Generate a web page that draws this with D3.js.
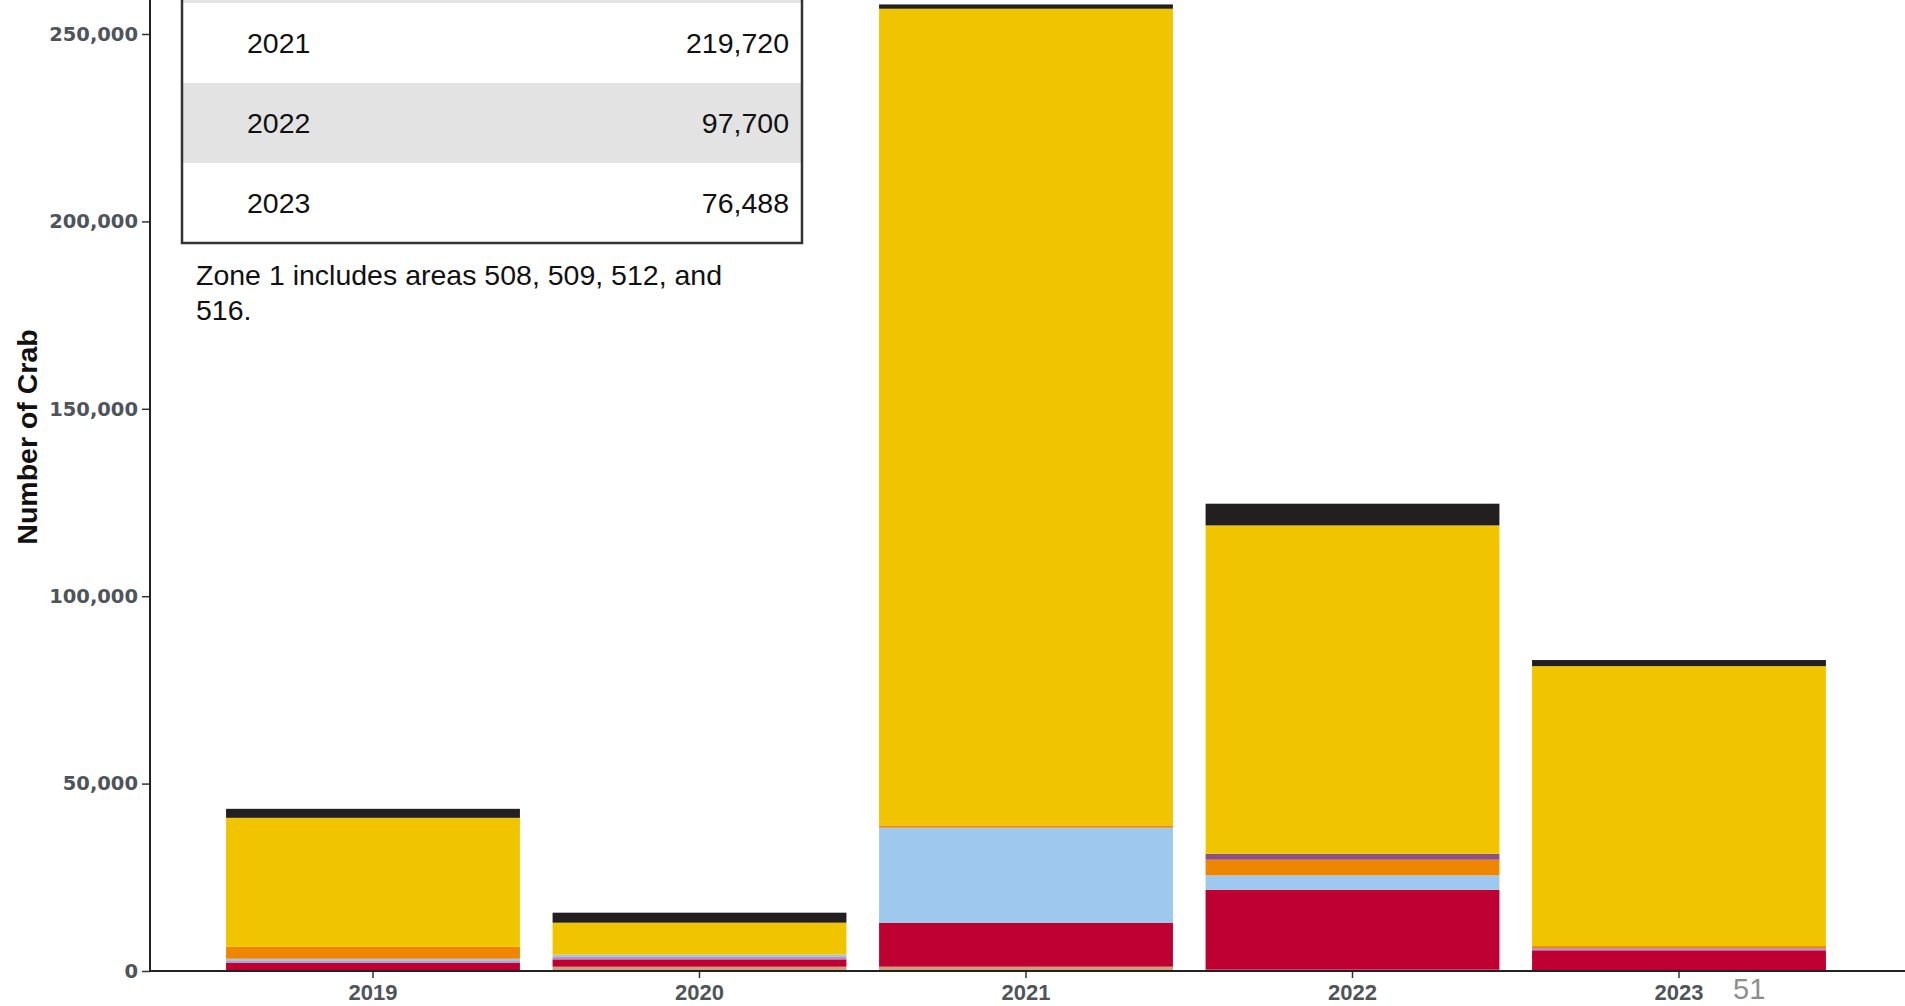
<!DOCTYPE html>
<html>
<head>
<meta charset="utf-8">
<script src="https://cdn.jsdelivr.net/npm/d3@7"></script>
<style>
  html, body { margin: 0; padding: 0; background: #fff; overflow: hidden; }
  svg { display: block; }
</style>
</head>
<body>
<svg id="chart" width="1905" height="1006"></svg>
<script>
// ---------------- DATA ----------------
const years = ["2019", "2020", "2021", "2022", "2023"];
const seriesNames = ["tan", "red", "lavender", "lightblue", "orange", "purple", "yellow", "black"];
const seriesColors = ["#c9a27c", "#bd0031", "#b393c2", "#9fc8ee", "#ef8600", "#8c4f86", "#f1c400", "#231f20"];
const tan       = [0,     1150,  1150,   350,   0];
const red       = [2200,  1960,  11740,  21340, 5520];
const lavender  = [450,   620,   0,      0,     600];
const lightblue = [620,   620,   25350,  3820,  0];
const orange    = [3200,  0,     600,    4180,  530];
const purple    = [0,     0,     0,      1600,  0];
const yellow    = [34400, 8540,  217900, 87600, 74700];
const black     = [2400,  2670,  1150,   5790,  1620];
const yTicks = [0, 50000, 100000, 150000, 200000, 250000];

const tableYears = ["2021", "2022", "2023"];
const tableValues = [219720, 97700, 76488];
const noteLines = ["Zone 1 includes areas 508, 509, 512, and", "516."];
const yTitle = "Number of Crab";
const pageNumber = "51";

// ---------------- BUILD ----------------
const seriesValues = [tan, red, lavender, lightblue, orange, purple, yellow, black];
const rows = years.map((y, i) => {
  const o = { year: y };
  seriesNames.forEach((s, k) => { o[s] = seriesValues[k][i]; });
  return o;
});
const stacked = d3.stack().keys(seriesNames)(rows);

const svg = d3.select("#chart");
const x0 = 150, baseY = 971;

const x = d3.scaleBand().domain(years).range([x0, 1902]).paddingInner(0.1).paddingOuter(0.233);
const y = d3.scaleLinear().domain([0, 250000]).range([baseY, 34]);

// Bars
const color = d3.scaleOrdinal().domain(seriesNames).range(seriesColors);
svg.append("g").selectAll("g").data(stacked).join("g")
  .attr("fill", d => color(d.key))
  .selectAll("rect").data(d => d).join("rect")
  .attr("x", d => x(d.data.year))
  .attr("width", x.bandwidth())
  .attr("y", d => y(d[1]))
  .attr("height", d => Math.max(0, y(d[0]) - y(d[1])));

// Y axis
const yAxis = svg.append("g").attr("transform", `translate(${x0},0)`)
  .call(d3.axisLeft(y).tickValues(yTicks).tickFormat(d3.format(",")).tickSize(8).tickPadding(4));
yAxis.select(".domain").remove();
yAxis.selectAll(".tick line").attr("stroke", "#333").attr("stroke-width", 1.5);
yAxis.selectAll(".tick text")
  .attr("fill", "#4f545a")
  .attr("font-family", "DejaVu Sans, sans-serif")
  .attr("font-weight", "bold")
  .attr("font-size", 19.5);
svg.append("line").attr("x1", x0).attr("x2", x0).attr("y1", 0).attr("y2", baseY)
  .attr("stroke", "#222").attr("stroke-width", 2);

// X axis
const xAxis = svg.append("g").attr("transform", `translate(0,${baseY})`)
  .call(d3.axisBottom(x).tickSize(7).tickPadding(6));
xAxis.select(".domain").remove();
xAxis.selectAll(".tick line").attr("stroke", "#333").attr("stroke-width", 1.5);
xAxis.selectAll(".tick text")
  .attr("fill", "#4f545a")
  .attr("font-family", "Liberation Sans, Arial, sans-serif")
  .attr("font-weight", "bold")
  .attr("font-size", 22);
svg.append("line").attr("x1", x0).attr("x2", 1905).attr("y1", baseY).attr("y2", baseY)
  .attr("stroke", "#222").attr("stroke-width", 2);

// Y title
svg.append("text")
  .attr("transform", "translate(37,437) rotate(-90)")
  .attr("text-anchor", "middle")
  .attr("font-family", "Liberation Sans, Arial, sans-serif")
  .attr("font-weight", "bold")
  .attr("font-size", 28.5)
  .attr("fill", "#111")
  .text(yTitle);

// Table
const tLeft = 182, tRight = 802, tBottom = 243, rowH = 80;
const nRows = tableYears.length;
const tbl = svg.append("g");
// partial row above (cut off by the top edge)
tbl.append("rect").attr("x", tLeft).attr("y", tBottom - (nRows + 1) * rowH)
  .attr("width", tRight - tLeft).attr("height", rowH).attr("fill", "#e3e3e3");
tableYears.forEach((yr, i) => {
  const top = tBottom - (nRows - i) * rowH;
  tbl.append("rect").attr("x", tLeft).attr("y", top).attr("width", tRight - tLeft).attr("height", rowH)
    .attr("fill", i % 2 === 1 ? "#e3e3e3" : "#ffffff");
  tbl.append("text").attr("x", 247).attr("y", top + rowH / 2 + 10)
    .attr("font-family", "Liberation Sans, Arial, sans-serif").attr("font-size", 28.5).attr("fill", "#111")
    .text(yr);
  tbl.append("text").attr("x", 789).attr("y", top + rowH / 2 + 10).attr("text-anchor", "end")
    .attr("font-family", "Liberation Sans, Arial, sans-serif").attr("font-size", 28.5).attr("fill", "#111")
    .text(d3.format(",")(tableValues[i]));
});
tbl.append("path")
  .attr("d", `M${tLeft},0 V${tBottom} H${tRight} V0`)
  .attr("fill", "none").attr("stroke", "#333").attr("stroke-width", 2.5);

// Note
noteLines.forEach((ln, i) => {
  svg.append("text").attr("x", 196).attr("y", 285 + i * 35)
    .attr("font-family", "Liberation Sans, Arial, sans-serif").attr("font-size", 28.5).attr("fill", "#111")
    .text(ln);
});

// Page number
svg.append("text").attr("x", 1733).attr("y", 999)
  .attr("font-family", "Liberation Sans, Arial, sans-serif").attr("font-size", 29).attr("fill", "#8e8e8e")
  .text(pageNumber);
</script>
</body>
</html>
